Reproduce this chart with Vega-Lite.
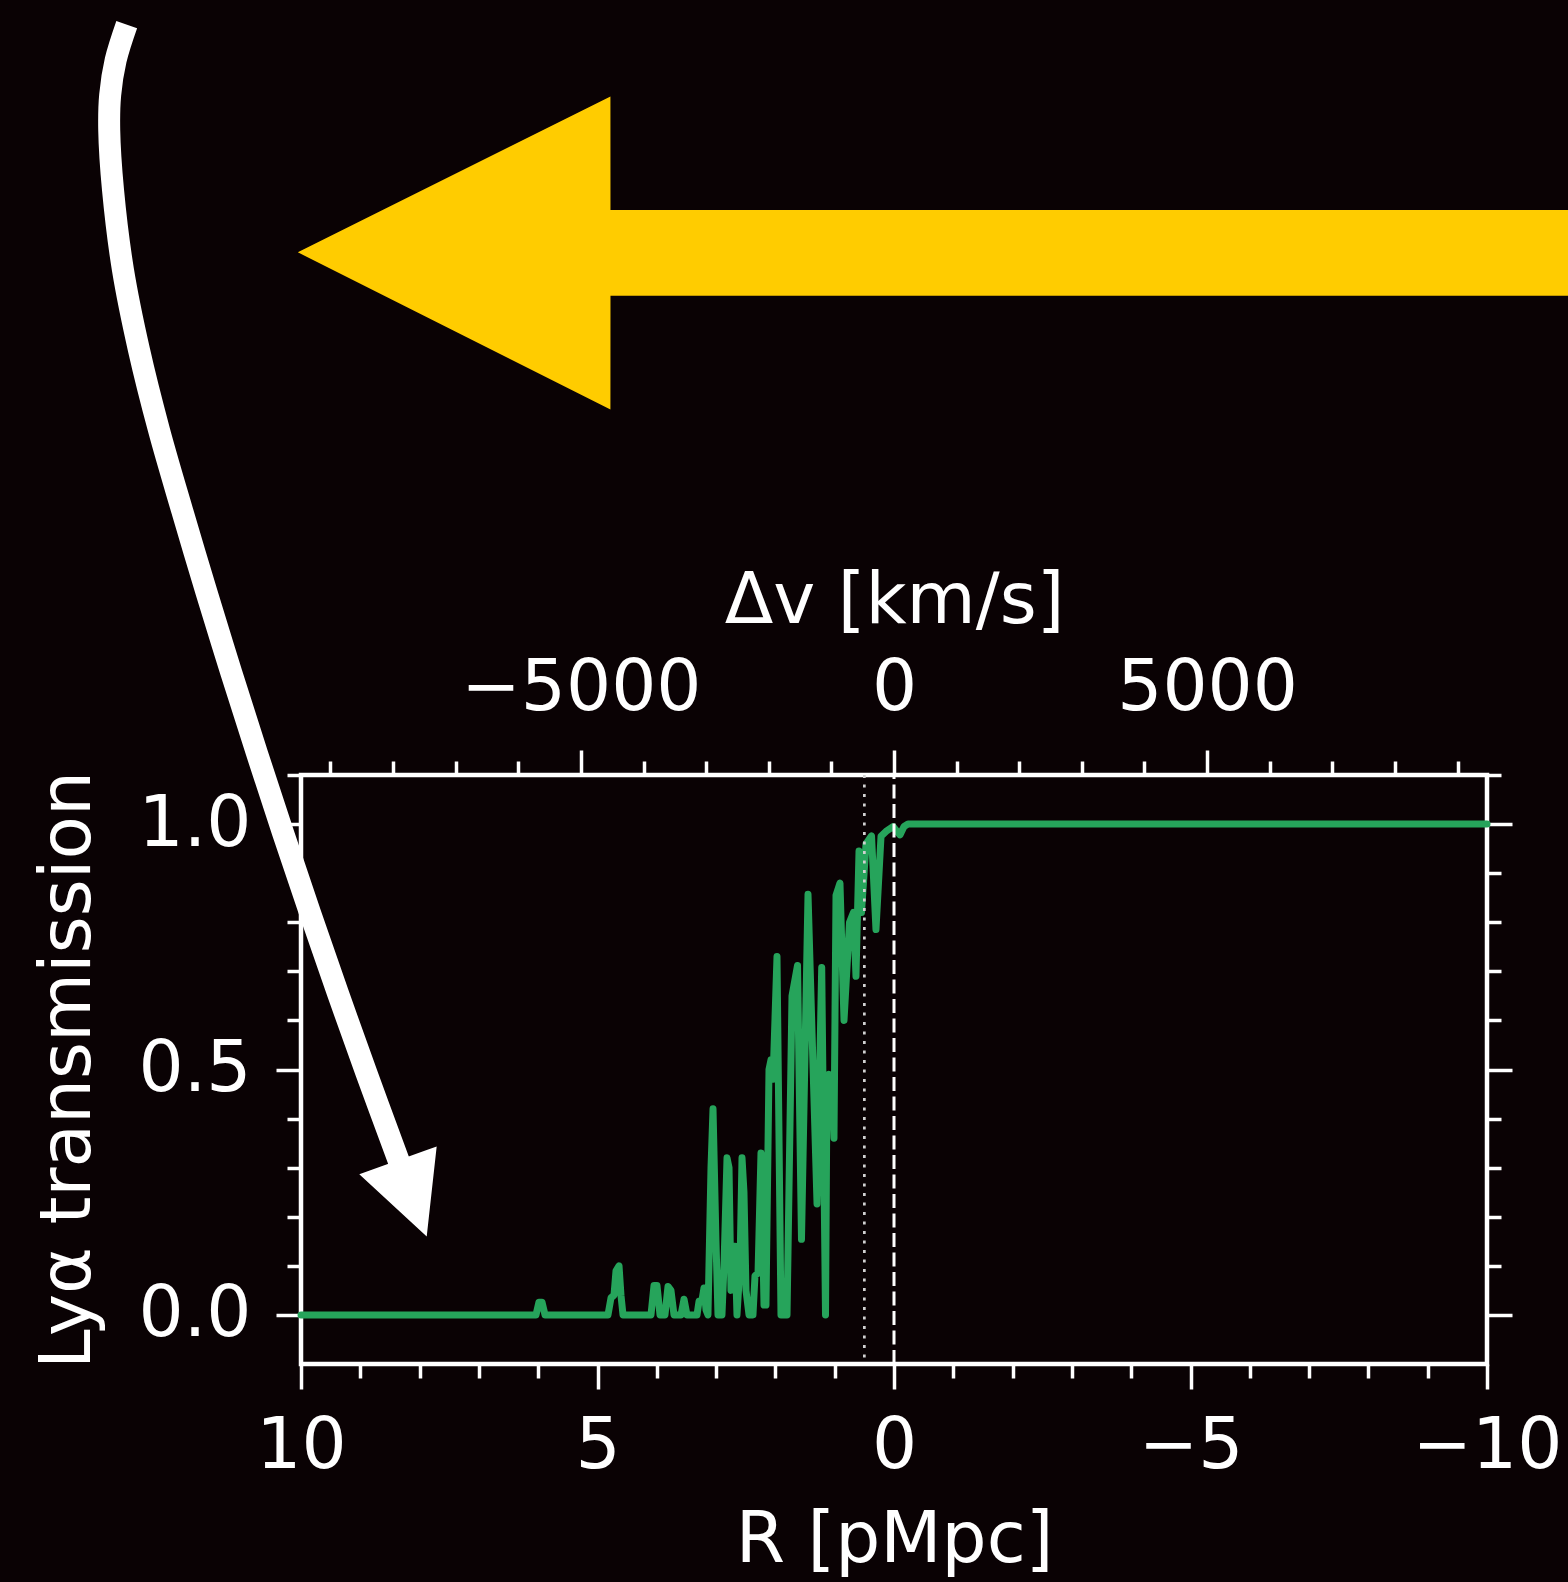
{
  "$schema": "https://vega.github.io/schema/vega-lite/v6.json",
  "width": 1186,
  "height": 589,
  "autosize": {"type": "none"},
  "padding": {"left": 301, "top": 775, "right": 81, "bottom": 218},
  "background": "#0a0204",
  "config": {
    "view": {"stroke": "#ffffff", "strokeWidth": 4.5},
    "axis": {
      "labelFont": "DejaVu Sans",
      "labelFontSize": 71,
      "labelColor": "#ffffff",
      "labelLimit": 0,
      "titleFont": "DejaVu Sans",
      "titleFontSize": 71,
      "titleFontWeight": "normal",
      "titleColor": "#ffffff",
      "titleLimit": 0,
      "tickColor": "#ffffff",
      "tickWidth": 3.5,
      "domain": false,
      "grid": false,
      "labelOverlap": false,
      "labelFlush": false,
      "labelBound": false
    }
  },
  "layer": [
    {
      "data": {"values": [
        {"R": 10.054, "lo": 2.1649, "hi": 2.1649},
        {"R": 4.782, "lo": 1.8446, "hi": 2.4824},
        {"R": 4.781, "lo": 2.0765, "hi": 2.2511},
        {"R": -11.6, "lo": 2.0765, "hi": 2.2511}
      ]},
      "mark": {"type": "area", "color": "#ffcc00", "interpolate": "linear", "orient": "vertical", "clip": false},
      "encoding": {
        "x": {"field": "R", "type": "quantitative", "axis": null,
              "scale": {"domain": [-10, 10], "reverse": true, "nice": false, "zero": false}},
        "y": {"field": "lo", "type": "quantitative", "axis": null, "stack": null,
              "scale": {"domain": [-0.1, 1.1], "nice": false, "zero": false}},
        "y2": {"field": "hi"}
      }
    },
    {
      "data": {"values": [
        {"R": 10, "T": 0},
        {"R": 6.037, "T": 0},
        {"R": 5.987, "T": 0.026},
        {"R": 5.936, "T": 0.026},
        {"R": 5.885, "T": 0},
        {"R": 4.823, "T": 0},
        {"R": 4.772, "T": 0.035},
        {"R": 4.722, "T": 0.04},
        {"R": 4.688, "T": 0.09},
        {"R": 4.637, "T": 0.1},
        {"R": 4.604, "T": 0.04},
        {"R": 4.57, "T": 0},
        {"R": 4.098, "T": 0},
        {"R": 4.047, "T": 0.06},
        {"R": 3.997, "T": 0.06},
        {"R": 3.946, "T": 0},
        {"R": 3.862, "T": 0},
        {"R": 3.811, "T": 0.058},
        {"R": 3.761, "T": 0.05},
        {"R": 3.71, "T": 0},
        {"R": 3.592, "T": 0},
        {"R": 3.541, "T": 0.032},
        {"R": 3.491, "T": 0},
        {"R": 3.322, "T": 0},
        {"R": 3.288, "T": 0.028},
        {"R": 3.238, "T": 0.03},
        {"R": 3.204, "T": 0.055},
        {"R": 3.17, "T": 0.01},
        {"R": 3.137, "T": 0},
        {"R": 3.086, "T": 0.3},
        {"R": 3.052, "T": 0.42},
        {"R": 3.002, "T": 0.15},
        {"R": 2.968, "T": 0},
        {"R": 2.901, "T": 0},
        {"R": 2.867, "T": 0.1},
        {"R": 2.816, "T": 0.32},
        {"R": 2.782, "T": 0.3},
        {"R": 2.749, "T": 0.05},
        {"R": 2.715, "T": 0.14},
        {"R": 2.681, "T": 0.14},
        {"R": 2.648, "T": 0},
        {"R": 2.597, "T": 0.1},
        {"R": 2.563, "T": 0.32},
        {"R": 2.53, "T": 0.25},
        {"R": 2.496, "T": 0.05},
        {"R": 2.445, "T": 0},
        {"R": 2.378, "T": 0},
        {"R": 2.344, "T": 0.08},
        {"R": 2.293, "T": 0.085},
        {"R": 2.243, "T": 0.33},
        {"R": 2.192, "T": 0.02},
        {"R": 2.159, "T": 0.02},
        {"R": 2.108, "T": 0.5},
        {"R": 2.074, "T": 0.52},
        {"R": 2.04, "T": 0.48},
        {"R": 1.973, "T": 0.73},
        {"R": 1.906, "T": 0},
        {"R": 1.804, "T": 0},
        {"R": 1.72, "T": 0.65},
        {"R": 1.627, "T": 0.712},
        {"R": 1.56, "T": 0.154},
        {"R": 1.45, "T": 0.857},
        {"R": 1.298, "T": 0.226},
        {"R": 1.219, "T": 0.708},
        {"R": 1.155, "T": 0},
        {"R": 1.13, "T": 0.47},
        {"R": 1.096, "T": 0.49},
        {"R": 1.046, "T": 0.48},
        {"R": 1.012, "T": 0.36},
        {"R": 0.978, "T": 0.855},
        {"R": 0.911, "T": 0.88},
        {"R": 0.843, "T": 0.6},
        {"R": 0.75, "T": 0.8},
        {"R": 0.683, "T": 0.82},
        {"R": 0.641, "T": 0.69},
        {"R": 0.59, "T": 0.945},
        {"R": 0.548, "T": 0.82},
        {"R": 0.472, "T": 0.96},
        {"R": 0.379, "T": 0.976},
        {"R": 0.304, "T": 0.785},
        {"R": 0.219, "T": 0.975},
        {"R": 0.135, "T": 0.985},
        {"R": 0.017, "T": 0.995},
        {"R": -0.051, "T": 0.985},
        {"R": -0.101, "T": 0.978},
        {"R": -0.169, "T": 0.995},
        {"R": -0.236, "T": 1},
        {"R": -10, "T": 1}
      ]},
      "mark": {"type": "line", "color": "#26a45b", "strokeWidth": 7, "strokeJoin": "round", "strokeCap": "round"},
      "encoding": {
        "x": {"field": "R", "type": "quantitative",
              "scale": {"domain": [-10, 10], "reverse": true, "nice": false, "zero": false},
              "axis": {
                "orient": "bottom",
                "title": "R [pMpc]",
                "values": [10, 9, 8, 7, 6, 5, 4, 3, 2, 1, 0, -1, -2, -3, -4, -5, -6, -7, -8, -9, -10],
                "format": "d",
                "labelExpr": "indexof([10, 5, 0, -5, -10], datum.value) >= 0 ? datum.label : ''",
                "tickSize": {"condition": {"test": "indexof([10, 5, 0, -5, -10], datum.value) >= 0", "value": 25}, "value": 14},
                "labelPadding": 22,
                "titlePadding": 24
              }},
        "y": {"field": "T", "type": "quantitative",
              "scale": {"domain": [-0.1, 1.1], "nice": false, "zero": false},
              "axis": {
                "orient": "left",
                "title": "Lyα transmission",
                "values": [0, 0.1, 0.2, 0.3, 0.4, 0.5, 0.6, 0.7, 0.8, 0.9, 1, 1.1],
                "format": ".1f",
                "labelExpr": "indexof([0, 0.5, 1], datum.value) >= 0 ? datum.label : ''",
                "tickSize": {"condition": {"test": "indexof([0, 0.5, 1], datum.value) >= 0", "value": 25}, "value": 14},
                "labelPadding": 25,
                "titlePadding": 34
              }}
      }
    },
    {
      "data": {"values": [{"R": 0.5}]},
      "mark": {"type": "rule", "color": "#d0d0d0", "strokeWidth": 2.7, "strokeDash": [3, 6.5]},
      "encoding": {
        "x": {"field": "R", "type": "quantitative", "axis": null,
              "scale": {"domain": [-10, 10], "reverse": true, "nice": false, "zero": false}}
      }
    },
    {
      "data": {"values": [{"dv": 0, "lo": -0.1, "hi": 1.1}]},
      "mark": {"type": "rule", "color": "#ffffff", "strokeWidth": 3, "strokeDash": [14, 5.5]},
      "encoding": {
        "x": {"field": "dv", "type": "quantitative",
              "scale": {"domain": [-9470, 9470], "nice": false, "zero": false},
              "axis": {
                "orient": "top",
                "title": "Δv [km/s]",
                "values": [-9000, -8000, -7000, -6000, -5000, -4000, -3000, -2000, -1000, 0, 1000, 2000, 3000, 4000, 5000, 6000, 7000, 8000, 9000],
                "format": "d",
                "labelExpr": "indexof([-5000, 0, 5000], datum.value) >= 0 ? datum.label : ''",
                "tickSize": {"condition": {"test": "indexof([-5000, 0, 5000], datum.value) >= 0", "value": 25}, "value": 14},
                "labelPadding": 26,
                "titlePadding": 15
              }},
        "y": {"field": "lo", "type": "quantitative",
              "scale": {"domain": [-0.1, 1.1], "nice": false, "zero": false},
              "axis": {
                "orient": "right",
                "title": null,
                "labels": false,
                "values": [0, 0.1, 0.2, 0.3, 0.4, 0.5, 0.6, 0.7, 0.8, 0.9, 1, 1.1],
                "tickSize": {"condition": {"test": "indexof([0, 0.5, 1], datum.value) >= 0", "value": 25}, "value": 14}
              }},
        "y2": {"field": "hi"}
      }
    },
    {
      "data": {"values": [
        {"i": 0, "R": 12.939, "T": 2.629},
        {"i": 1, "R": 13.125, "T": 2.5567},
        {"i": 2, "R": 13.218, "T": 2.4854},
        {"i": 3, "R": 13.234, "T": 2.4141},
        {"i": 4, "R": 13.17, "T": 2.2918},
        {"i": 5, "R": 13.002, "T": 2.1289},
        {"i": 6, "R": 12.732, "T": 1.9659},
        {"i": 7, "R": 12.395, "T": 1.8029},
        {"i": 8, "R": 12.007, "T": 1.6399},
        {"i": 9, "R": 11.59, "T": 1.4708},
        {"i": 10, "R": 11.174, "T": 1.3078},
        {"i": 11, "R": 10.744, "T": 1.1448},
        {"i": 12, "R": 10.302, "T": 0.9818},
        {"i": 13, "R": 9.847, "T": 0.8188},
        {"i": 14, "R": 9.378, "T": 0.6558},
        {"i": 15, "R": 8.897, "T": 0.4928},
        {"i": 16, "R": 8.359, "T": 0.3162},
        {"i": 17, "R": 8.28, "T": 0.2911}
      ]},
      "mark": {"type": "line", "color": "#ffffff", "strokeWidth": 22, "strokeCap": "butt", "interpolate": "catmull-rom", "clip": false},
      "encoding": {
        "x": {"field": "R", "type": "quantitative", "axis": null,
              "scale": {"domain": [-10, 10], "reverse": true, "nice": false, "zero": false}},
        "y": {"field": "T", "type": "quantitative", "axis": null,
              "scale": {"domain": [-0.1, 1.1], "nice": false, "zero": false}},
        "order": {"field": "i", "type": "quantitative"}
      }
    },
    {
      "data": {"values": [
        {"R": 9.017, "lo": 0.2867, "hi": 0.2867},
        {"R": 7.88, "lo": 0.1599, "hi": 0.336},
        {"R": 7.712, "lo": 0.3433, "hi": 0.3433}
      ]},
      "mark": {"type": "area", "color": "#ffffff", "interpolate": "linear", "orient": "vertical", "clip": false},
      "encoding": {
        "x": {"field": "R", "type": "quantitative", "axis": null,
              "scale": {"domain": [-10, 10], "reverse": true, "nice": false, "zero": false}},
        "y": {"field": "lo", "type": "quantitative", "axis": null, "stack": null,
              "scale": {"domain": [-0.1, 1.1], "nice": false, "zero": false}},
        "y2": {"field": "hi"}
      }
    }
  ],
  "resolve": {
    "scale": {"x": "independent", "y": "independent"},
    "axis": {"x": "independent", "y": "independent"}
  }
}
